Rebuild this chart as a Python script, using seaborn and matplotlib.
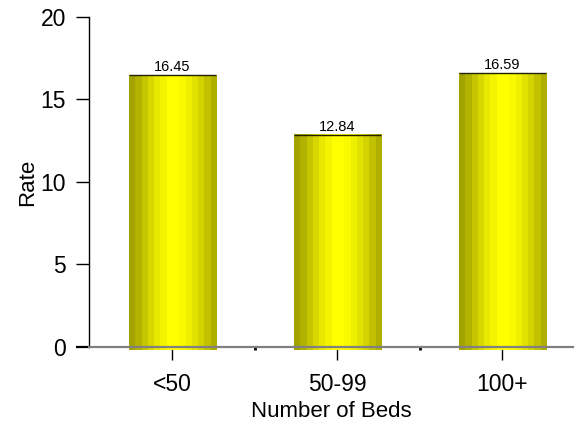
import numpy as np
import pandas as pd
import matplotlib
matplotlib.use("Agg")
import matplotlib.pyplot as plt
import seaborn as sns

categories = ["<50", "50-99", "100+"]
rates = [16.45, 12.84, 16.59]
y_ticks = [0, 5, 10, 15, 20]

sns.set_theme(style="ticks")
plt.rcParams["font.family"] = ["Liberation Sans", "DejaVu Sans"]
plt.rcParams["text.color"] = "black"
plt.rcParams["axes.labelcolor"] = "black"
plt.rcParams["xtick.color"] = "black"
plt.rcParams["ytick.color"] = "black"

df = pd.DataFrame({"beds": categories, "rate": rates})

fig = plt.figure(figsize=(5.77, 4.23), dpi=100)
ax = fig.add_axes([0.154, 0.180, 0.839, 0.780])

sns.barplot(data=df, x="beds", y="rate", order=categories, width=0.53,
            color="yellow", ax=ax, errorbar=None, saturation=1)

# vertical shading stripes give each bar a cylindrical look
shade = np.array([0.64, 0.70, 0.78, 0.85, 0.91, 0.96, 1.0, 1.0,
                  0.98, 0.94, 0.89, 0.83, 0.76, 0.69])
stripe_rgb = np.stack([shade, shade, np.zeros_like(shade)], axis=-1)[None, :, :]

drop = 0.2
for patch, val in zip(ax.patches, rates):
    x0 = patch.get_x()
    w = patch.get_width()
    patch.set_visible(False)
    im = ax.imshow(stripe_rgb, extent=[x0, x0 + w, -drop, val],
                   aspect="auto", interpolation="nearest", zorder=2)
    im.set_clip_on(False)
    ax.hlines(val, x0, x0 + w, color="#222200", lw=1.0, zorder=3)
    ax.text(x0 + w / 2, val + 0.06, f"{val:.2f}", ha="center", va="bottom",
            fontsize=10.5, color="black", zorder=4)

ax.set_xlim(-0.506, 2.427)
ax.set_ylim(0, 20)
ax.set_yticks(y_ticks)
ax.set_xticks(range(len(categories)))
ax.set_xticklabels(categories)
ax.set_xticks([0.5, 1.5], minor=True)

for side in ["top", "right"]:
    ax.spines[side].set_visible(False)
ax.spines["left"].set_color("black")
ax.spines["left"].set_linewidth(1.0)
ax.spines["bottom"].set_color("#808080")
ax.spines["bottom"].set_linewidth(1.6)
ax.spines["bottom"].set_zorder(5)

ax.tick_params(axis="y", length=9.5, width=1.0, labelsize=16.5, pad=7)
ax.tick_params(axis="x", which="major", length=9.5, width=1.0,
               labelsize=16.5, pad=9)
ax.tick_params(axis="x", which="minor", length=2, width=2.0)
# the zero tick continues the grey baseline
ax.yaxis.get_major_ticks()[0].tick1line.set_color("#808080")
ax.yaxis.get_major_ticks()[0].tick1line.set_markeredgewidth(1.6)

ax.set_xlabel("Number of Beds", fontsize=16, labelpad=4)
ax.set_ylabel("Rate", fontsize=16, labelpad=2)

fig.savefig("out.png", dpi=100)
